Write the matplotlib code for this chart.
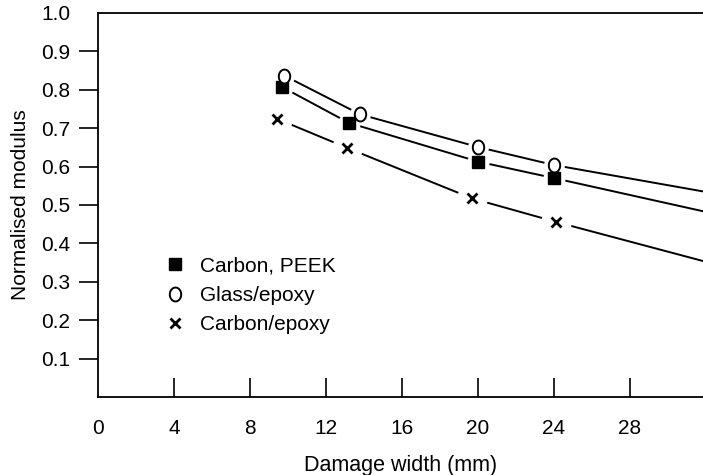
import numpy as np
import matplotlib
matplotlib.use("Agg")
import matplotlib.pyplot as plt
from matplotlib.path import Path
from matplotlib.lines import Line2D

# measured points
peek_x = [9.7, 13.2, 20.0, 24.0]
peek_y = [0.807, 0.714, 0.613, 0.570]
glass_x = [9.8, 13.8, 20.0, 24.0]
glass_y = [0.837, 0.736, 0.651, 0.604]
epoxy_x = [9.4, 13.1, 19.7, 24.1]
epoxy_y = [0.725, 0.649, 0.517, 0.456]

# trend lines run on past the last point to the edge of the plot
peek_end = (32.0, 0.482)
glass_end = (32.0, 0.534)
epoxy_end = (32.0, 0.352)

xticks = [4, 8, 12, 16, 20, 24, 28]
xlabels = ["0", "4", "8", "12", "16", "20", "24", "28"]
yticks = [0.1, 0.2, 0.3, 0.4, 0.5, 0.6, 0.7, 0.8, 0.9]

plt.rcParams['font.family'] = ['Liberation Sans', 'DejaVu Sans']

# slightly tall open ellipse for the glass/epoxy points
t = np.linspace(0, 2 * np.pi, 60)
ellipse = Path(np.column_stack([0.82 * np.cos(t), np.sin(t)]), closed=True)

fig = plt.figure(figsize=(7.03, 4.75), dpi=100)
ax = fig.add_axes([98 / 703, 78 / 475, 1 - 98 / 703, 384 / 475])

series = [
    (peek_x, peek_y, peek_end, dict(marker='s', ms=8, mfc='black', mec='black'), 16),
    (glass_x, glass_y, glass_end, dict(marker=ellipse, ms=10, mfc='white', mec='black', mew=1.4), 15),
    (epoxy_x, epoxy_y, epoxy_end, dict(marker='x', ms=6.5, mec='black', mew=2.0), 22),
]

for xs, ys, end, mk, halo in series:
    ax.plot(xs + [end[0]], ys + [end[1]], color='black', lw=1.4, zorder=2,
            solid_capstyle='butt')
    # white disc under each marker leaves a small gap in the line
    ax.plot(xs, ys, ls='none', marker='o', ms=halo, mfc='white', mec='none',
            zorder=3)
    ax.plot(xs, ys, ls='none', zorder=4, **mk)

ax.set_xlim(0, 31.84)
ax.set_ylim(0, 0.993)

ax.spines['right'].set_visible(False)
for s in ('left', 'top', 'bottom'):
    ax.spines[s].set_linewidth(1.3)

ax.set_xticks([0] + xticks)
ax.set_xticklabels(xlabels)
ax.tick_params(axis='x', direction='in', length=14, width=1.2, pad=16,
               labelsize=15)
ax.xaxis.get_major_ticks()[0].tick1line.set_visible(False)

ax.set_yticks(yticks + [1.0])
ax.set_yticklabels([f"{v:.1f}" for v in yticks] + ["1.0"])
ax.tick_params(axis='y', direction='out', length=14, width=1.2, pad=6,
               labelsize=15)
ax.yaxis.get_major_ticks()[-1].tick1line.set_visible(False)

ax.set_xlabel("Damage width (mm)", fontsize=15.5, labelpad=12)
ax.set_ylabel("Normalised modulus", fontsize=15, labelpad=8)

handles = [
    Line2D([], [], ls='none', marker='s', ms=8, mfc='black', mec='black'),
    Line2D([], [], ls='none', marker=ellipse, ms=10, mfc='white', mec='black', mew=1.4),
    Line2D([], [], ls='none', marker='x', ms=6.5, mec='black', mew=2.0),
]
ax.legend(handles, ["Carbon, PEEK", "Glass/epoxy", "Carbon/epoxy"],
          loc='upper left', bbox_to_anchor=(156 / 703, 1 - 246 / 475),
          bbox_transform=fig.transFigure, frameon=False, fontsize=15,
          handlelength=0.8, handletextpad=0.8, labelspacing=0.5,
          borderpad=0)

fig.savefig("out.png", dpi=100)
